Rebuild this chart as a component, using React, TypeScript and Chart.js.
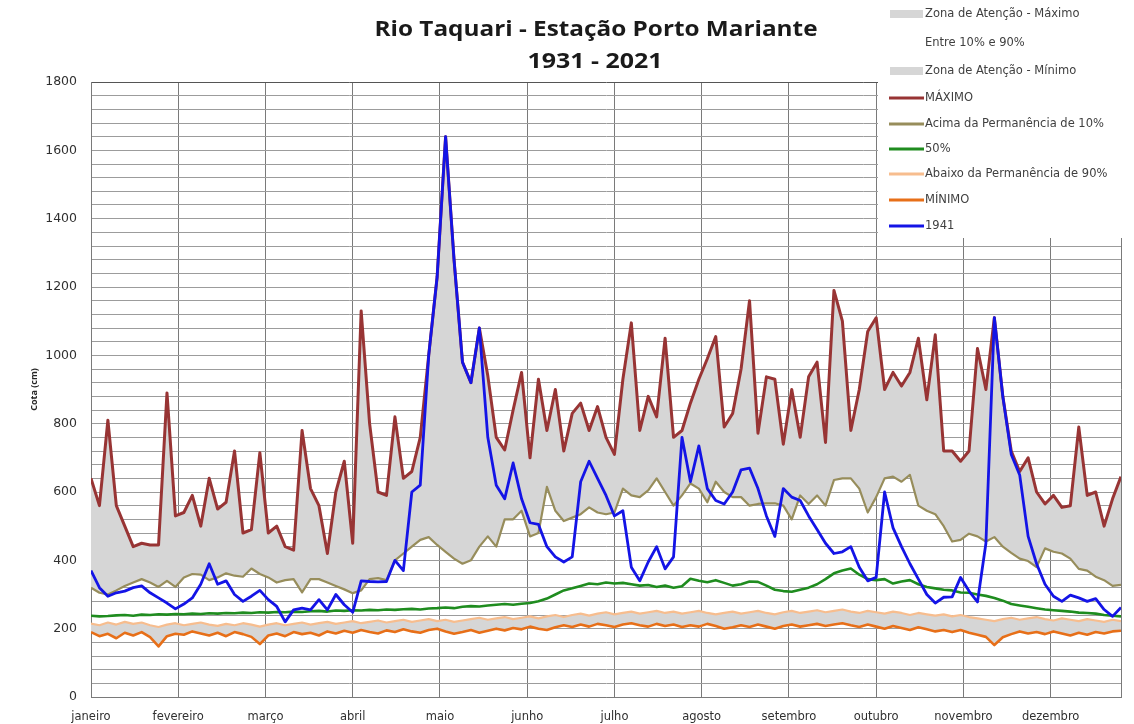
import React, { useEffect, useRef } from 'react';
import { Chart, registerables } from 'chart.js';

Chart.register(...registerables);

// ---- data (one value every DAY_STEP days, day 0 = 1 January) ----
const DAY_STEP = 3;
const X_MAX = 366;
const Y_MAX = 1800;

const monthLabels = ['janeiro', 'fevereiro', 'março', 'abril', 'maio', 'junho', 'julho', 'agosto', 'setembro', 'outubro', 'novembro', 'dezembro'];
const monthTickDays = [0, 31, 62, 93, 124, 155, 186, 217, 248, 279, 310, 341];

const maximo = [
  640, 560, 810, 560, 500, 440, 450, 445, 445, 890, 530, 540, 590, 500, 640, 550, 570, 720, 480, 490,
  715, 480, 500, 440, 430, 780, 610, 560, 420, 600, 690, 450, 1130, 800, 600, 590, 820, 640, 660, 760,
  1000, 1230, 1640, 1280, 980, 920, 1080, 940, 760, 723, 840, 950, 700, 930, 780, 900, 720, 830, 860, 780,
  850, 760, 710, 930, 1095, 780, 880, 820, 1050, 760, 780, 860, 930, 990, 1055, 790, 830, 960, 1160, 772,
  937, 930, 740, 900, 760, 937, 980, 745, 1190, 1100, 780, 900, 1070, 1110, 900, 950, 910, 950, 1050, 870,
  1060, 720, 720, 690, 720, 1020, 900, 1110, 880, 720, 660, 700, 600, 565, 590, 555, 560, 790, 590, 600,
  500, 580, 645,
];

const acima10 = [
  320, 305, 300, 312, 325, 335, 345, 335, 322, 340, 322, 350, 360, 358, 342, 350, 362, 355, 352, 376,
  360, 350, 335, 342, 345, 306, 345, 345, 335, 325, 315, 304, 312, 345, 348, 342, 400, 420, 440, 460,
  468, 445, 425, 405, 390, 400, 440, 470, 440, 520, 520, 545, 470, 480, 615, 545, 515, 525, 535, 555,
  540, 535, 540, 610, 590, 585, 605, 640, 600, 560, 590, 625, 610, 570, 630, 600, 585, 585, 560, 565,
  567, 567, 560, 520, 590, 565, 590, 560, 635, 640, 640, 610, 540, 585, 640, 645, 630, 650, 560, 545,
  535, 500, 455, 460, 478, 470, 455, 468, 440, 422, 405, 398, 380, 435, 425, 420, 405, 375, 370, 352,
  342, 325, 328,
];

const perm50 = [
  238, 236, 237, 239, 240, 238, 241, 240, 242, 241, 243, 242, 244, 243, 245, 244, 246, 245, 247, 246,
  248, 247, 249, 248, 250, 249, 251, 252, 250, 253, 252, 254, 253, 255, 254, 256, 255, 257, 258, 256,
  259, 260, 262, 260, 264, 266, 265, 268, 270, 272, 270, 273, 275, 280, 288, 300, 312, 318, 325, 332,
  330, 335, 332, 334, 330, 326, 328, 322, 326, 320, 324, 346, 340, 336, 342, 334, 326, 330, 338, 337,
  326, 314, 310, 308, 314, 320, 330, 345, 362, 370, 376, 358, 345, 342, 345, 332, 338, 342, 330, 322,
  318, 314, 312, 306, 305, 300, 296, 290, 282, 272, 268, 264, 260, 256, 254, 252, 250, 247, 246, 244,
  240, 238, 236,
];

const abaixo90 = [
  215, 210, 218, 212, 220, 214, 218, 210, 205, 212, 216, 210, 214, 218, 212, 208, 214, 210, 216, 212,
  206, 212, 216, 210, 214, 218, 212, 216, 220, 214, 218, 222, 216, 220, 224, 218, 222, 226, 220, 224,
  228, 222, 226, 220, 224, 228, 232, 226, 230, 234, 228, 232, 236, 230, 236, 240, 234, 240, 244, 238,
  244, 248, 242, 246, 250, 244, 248, 252, 246, 250, 244, 248, 252, 246, 242, 246, 250, 244, 248, 252,
  246, 242, 248, 252, 246, 250, 254, 248, 252, 256, 250, 246, 252, 248, 244, 250, 246, 240, 246, 242,
  238, 242, 236, 240, 234, 230, 226, 222, 228, 232, 226, 230, 234, 228, 224, 230, 226, 222, 228, 224,
  220, 226, 222,
];

const minimo = [
  190, 178, 185, 172, 188, 180, 190, 175, 148, 178, 185, 182, 192, 186, 180, 188, 178, 190, 184, 176,
  155, 180, 186, 178, 190, 184, 188, 180, 192, 186, 194, 188, 196, 190, 186, 195, 190, 198, 192, 188,
  196, 200, 192, 185, 190, 196, 188, 194, 200, 195, 202, 198, 206, 200, 196, 204, 210, 205, 212, 206,
  214, 210, 205, 212, 216, 210, 206, 214, 208, 212, 205, 210, 206, 214, 208, 200, 204, 210, 205, 212,
  206, 200, 208, 212, 206, 210, 214, 208, 212, 216, 210, 205, 212, 206, 200, 208, 202, 196, 204, 198,
  192, 196, 190, 196, 188, 182, 176, 152, 175, 184, 192, 186, 190, 184, 192, 186, 180, 188, 182, 190,
  186, 192, 194,
];

const ano1941 = [
  370, 320, 295, 305, 310, 320, 325, 305, 290, 275, 258, 272, 290, 330, 390, 330, 340, 300, 280, 295,
  312, 285, 265, 220, 255, 260, 255, 285, 255, 300, 270, 248, 340, 338, 337, 338, 400, 370, 600, 620,
  1000, 1230, 1640, 1280, 980, 920, 1080, 760, 620, 580, 685, 580, 510, 505, 440, 410, 395, 410, 630, 690,
  640, 590, 530, 545, 380, 340, 395, 440, 375, 410, 760, 630, 735, 610, 575, 565, 600, 665, 670, 610,
  530, 470, 610, 585, 575, 530, 490, 450, 420, 425, 440, 380, 340, 350, 600, 495, 440, 390, 345, 300,
  275, 292, 293, 350, 310, 278, 450, 1110, 880, 710, 650, 470, 390, 330, 295, 280, 298, 290, 280, 288,
  256, 236, 262,
];

// ---- styles ----
const FILL_GRAY = '#d6d6d6';
const C_MAX = '#983434';
const C_10 = '#978d5b';
const C_50 = '#1f8c1f';
const C_90 = '#f7bd8e';
const C_MIN = '#e76f18';
const C_1941 = '#1414e6';
const TITLE_FONT = "'Open Sans', 'DejaVu Sans', sans-serif";
const TEXT_FONT = "'DejaVu Sans', sans-serif";

const toPoints = (vals: number[]) => vals.map((v, i) => ({ x: i * DAY_STEP, y: v }));

const legendItems = [
  { label: 'Zona de Atenção - Máximo', kind: 'box', color: FILL_GRAY },
  { label: 'Entre 10% e 90%', kind: 'none', color: '#ffffff' },
  { label: 'Zona de Atenção - Mínimo', kind: 'box', color: FILL_GRAY },
  { label: 'MÁXIMO', kind: 'line', color: C_MAX },
  { label: 'Acima da Permanência de 10%', kind: 'line', color: C_10 },
  { label: '50%', kind: 'line', color: C_50 },
  { label: 'Abaixo da Permanência de 90%', kind: 'line', color: C_90 },
  { label: 'MÍNIMO', kind: 'line', color: C_MIN },
  { label: '1941', kind: 'line', color: C_1941 },
];
const legendRowY = [14, 43, 71, 98, 124, 149, 174, 200, 226];

const drawStretched = (ctx: CanvasRenderingContext2D, text: string, cx: number, cy: number, width: number) => {
  const w = ctx.measureText(text).width;
  ctx.save();
  ctx.translate(cx, cy);
  ctx.scale(width / w, 1);
  ctx.fillText(text, 0, 0);
  ctx.restore();
};

const overlayPlugin = {
  id: 'overlay',
  afterDraw(chart: any) {
    const ctx = chart.ctx;
    ctx.save();
    // title
    ctx.fillStyle = '#1a1a1a';
    ctx.textAlign = 'center';
    ctx.textBaseline = 'middle';
    ctx.font = `bold 21px ${TITLE_FONT}`;
    drawStretched(ctx, 'Rio Taquari - Estação Porto Mariante', 596, 30, 443);
    drawStretched(ctx, '1931 - 2021', 595, 62, 135);
    // legend box
    ctx.fillStyle = '#ffffff';
    ctx.fillRect(878, 0, 256, 238);
    ctx.font = `11.5px ${TEXT_FONT}`;
    ctx.textAlign = 'left';
    legendItems.forEach((it, k) => {
      const y = legendRowY[k];
      if (it.kind === 'box') {
        ctx.fillStyle = it.color;
        ctx.fillRect(890, y - 4, 33, 8);
      } else if (it.kind === 'line') {
        ctx.strokeStyle = it.color;
        ctx.lineWidth = 3;
        ctx.beginPath();
        ctx.moveTo(889, y);
        ctx.lineTo(924, y);
        ctx.stroke();
      }
      ctx.fillStyle = '#404040';
      ctx.fillText(it.label, 925, y);
    });
    ctx.restore();
  },
};

export default function App() {
  const ref = useRef<HTMLCanvasElement | null>(null);

  useEffect(() => {
    if (!ref.current) return;
    const line = (label: string, data: number[], color: string, width: number, extra: any = {}) => ({
      label,
      data: toPoints(data),
      borderColor: color,
      borderWidth: width,
      pointRadius: 0,
      tension: 0,
      fill: false,
      borderJoinStyle: 'round',
      ...extra,
    });
    const chart = new Chart(ref.current, {
      type: 'line',
      data: {
        datasets: [
          line('1941', ano1941, C_1941, 2.8),
          line('MÁXIMO', maximo, C_MAX, 3, { fill: '+1', backgroundColor: FILL_GRAY }),
          line('Acima da Permanência de 10%', acima10, C_10, 2.2),
          line('50%', perm50, C_50, 2.6),
          line('Abaixo da Permanência de 90%', abaixo90, C_90, 2.2, { fill: '+1', backgroundColor: FILL_GRAY }),
          line('MÍNIMO', minimo, C_MIN, 2.6),
        ] as any,
      },
      options: {
        animation: false,
        responsive: false,
        maintainAspectRatio: false,
        layout: { padding: { left: 0, top: 82, right: 7, bottom: 0 } },
        plugins: {
          legend: { display: false },
          title: { display: false },
          tooltip: { enabled: false },
          filler: { drawTime: 'beforeDatasetsDraw' },
        } as any,
        scales: {
          x: {
            type: 'linear',
            min: 0,
            max: X_MAX,
            afterBuildTicks: (scale: any) => {
              scale.ticks = [...monthTickDays, X_MAX].map((v) => ({ value: v }));
            },
            afterFit: (scale: any) => {
              scale.height = 27;
            },
            ticks: {
              autoSkip: false,
              maxRotation: 0,
              padding: 13,
              color: '#303030',
              font: { family: TEXT_FONT, size: 11.5 },
              callback: (_v: any, i: number) => (i < monthLabels.length ? monthLabels[i] : ''),
            },
            grid: { color: '#7a7a7a', lineWidth: 1, drawTicks: false },
            border: { color: '#7a7a7a', width: 1 },
          },
          y: {
            type: 'linear',
            min: 0,
            max: Y_MAX,
            afterFit: (scale: any) => {
              scale.width = 91;
            },
            ticks: {
              stepSize: 40,
              maxTicksLimit: 100,
              autoSkip: false,
              padding: 14,
              color: '#303030',
              font: { family: TEXT_FONT, size: 12.5 },
              callback: (v: any) => (Number(v) % 200 === 0 ? String(v) : ''),
            },
            grid: {
              color: (c: any) => (c.tick && c.tick.value === Y_MAX ? '#555555' : '#9c9c9c'),
              lineWidth: 1,
              drawTicks: false,
            },
            border: { color: '#7a7a7a', width: 1 },
            title: {
              display: true,
              text: 'Cota (cm)',
              color: '#262626',
              font: { family: TITLE_FONT, size: 9, weight: 'bold' },
              padding: { top: 29, bottom: 0 },
            },
          },
        },
      } as any,
      plugins: [overlayPlugin],
    });
    return () => chart.destroy();
  }, []);

  return (
    <div style={{ position: 'fixed', left: 0, top: 0, width: 1134, height: 724, background: '#ffffff' }}>
      <canvas ref={ref} width={1134} height={724} style={{ width: 1134, height: 724 }} />
    </div>
  );
}
